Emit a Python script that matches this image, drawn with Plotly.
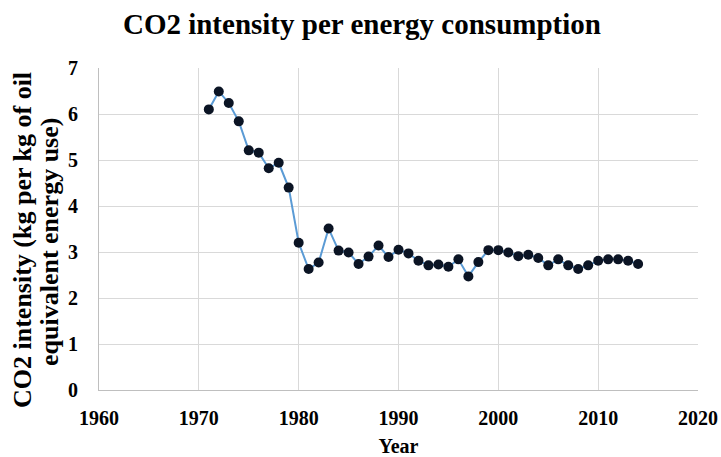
import plotly.graph_objects as go

years = list(range(1971, 2015))
intensity = [6.10, 6.49, 6.24, 5.84, 5.21, 5.16, 4.82, 4.94, 4.40, 3.20,
             2.63, 2.77, 3.51, 3.03, 2.99, 2.74, 2.90, 3.14, 2.89, 3.05,
             2.97, 2.81, 2.71, 2.73, 2.68, 2.84, 2.47, 2.78, 3.04, 3.04,
             2.99, 2.91, 2.94, 2.87, 2.71, 2.84, 2.71, 2.63, 2.71, 2.81,
             2.84, 2.84, 2.81, 2.74]

x_ticks = [1960, 1970, 1980, 1990, 2000, 2010, 2020]
y_ticks = [0, 1, 2, 3, 4, 5, 6, 7]
y_title_lines = ["CO2 intensity (kg per kg of oil", "equivalent energy use)"]

font_family = "Liberation Serif"

fig = go.Figure()
fig.add_trace(go.Scatter(
    x=years, y=intensity, mode="lines+markers",
    line=dict(color="#5b9bd5", width=2),
    marker=dict(color="#0b1424", size=10, line=dict(width=0)),
    showlegend=False,
))

# y-axis title as two rotated lines (plot area: left 99, width 599, top 68, height 322)
for txt, px_x, px_y in [(y_title_lines[0], 22, 240), (y_title_lines[1], 49, 242)]:
    fig.add_annotation(
        text=f"<b>{txt}</b>", textangle=-90, showarrow=False,
        xref="paper", yref="paper",
        x=(px_x - 99) / 599, y=(390 - px_y) / 322,
        xanchor="center", yanchor="middle",
        font=dict(family=font_family, size=26, color="black"),
    )

fig.update_layout(
    width=721, height=457,
    paper_bgcolor="white", plot_bgcolor="white",
    margin=dict(l=99, r=23, t=68, b=67, autoexpand=False),
    title=dict(text="<b>CO2 intensity per energy consumption</b>",
               x=0.502, xanchor="center", y=1 - 24 / 457, yanchor="middle",
               font=dict(family=font_family, size=29, color="black")),
    font=dict(family=font_family, color="black"),
    xaxis=dict(range=[1960, 2020], tickmode="array", tickvals=x_ticks,
               ticktext=[f"<b>{v}</b>" for v in x_ticks],
               tickfont=dict(size=20), showgrid=True, gridcolor="#d9d9d9",
               gridwidth=1, showline=True, linecolor="#bfbfbf", zeroline=False,
               ticks="", ticklabelstandoff=10,
               title=dict(text="<b>Year</b>", font=dict(size=20), standoff=14)),
    yaxis=dict(range=[0, 7], tickmode="array", tickvals=y_ticks,
               ticktext=[f"<b>{v}</b>" for v in y_ticks],
               tickfont=dict(size=20), showgrid=True, gridcolor="#d9d9d9",
               gridwidth=1, showline=True, linecolor="#bfbfbf", zeroline=False,
               ticks="", ticklabelstandoff=16),
)

fig.write_html("out.html", config={"displayModeBar": False},
               post_script="document.body.style.margin='0';")
